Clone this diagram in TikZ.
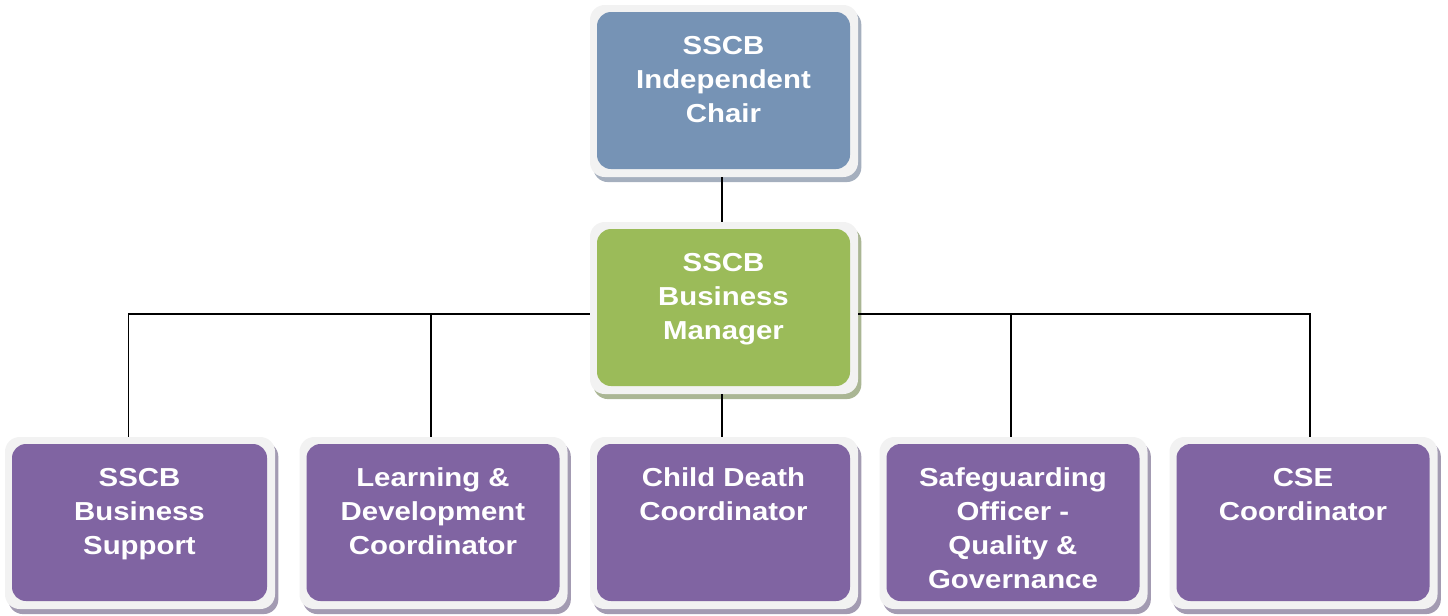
\documentclass[tikz,border=0pt]{standalone}
\usepackage{fontspec}
\setmainfont{Liberation Sans}[FakeStretch=1.13]
\usetikzlibrary{shadows}
\definecolor{chaircol}{RGB}{118,147,181}
\definecolor{mgrcol}{RGB}{155,187,89}
\definecolor{rolecol}{RGB}{128,100,162}
\definecolor{framecol}{RGB}{242,242,242}
\definecolor{chairsh}{RGB}{165,175,190}
\definecolor{mgrsh}{RGB}{170,182,148}
\definecolor{rolesh}{RGB}{163,155,178}
\tikzset{
  orgbox/.style 2 args={rectangle, rounded corners=11pt, minimum width=201pt, minimum height=129pt,
    inner sep=0pt, fill=framecol,
    general shadow={fill=#2, shadow xshift=2.5pt, shadow yshift=-3.8pt},
    path picture={\fill[#1, rounded corners=10.5pt]
      ([shift={(5.25pt,-5.25pt)}]path picture bounding box.north west) rectangle
      ([shift={(-6pt,6pt)}]path picture bounding box.south east);}},
  lbl/.style={text=white, font=\bfseries\fontsize{19.5pt}{25.5pt}\selectfont, align=center, inner sep=0pt, anchor=north},
  conn/.style={draw=black, line width=1.4pt}
}
\begin{document}
\begin{tikzpicture}[x=0.75pt,y=-0.75pt]
\useasboundingbox (0,0) rectangle (1448,615);
% boxes
\node[orgbox={chaircol}{chairsh}] (chair) at (724,91) {};
\node[orgbox={mgrcol}{mgrsh}] (mgr) at (724,308) {};
\node[orgbox={rolecol}{rolesh}, minimum width=202.5pt] (b1) at (140,523) {};
\node[orgbox={rolecol}{rolesh}] (b2) at (433.5,523) {};
\node[orgbox={rolecol}{rolesh}] (b3) at (724,523) {};
\node[orgbox={rolecol}{rolesh}] (b4) at (1013.5,523) {};
\node[orgbox={rolecol}{rolesh}] (b5) at (1303.5,523) {};
% labels
\node[lbl] (tchair) at ([shift={(-0.4pt,-23.5pt)}]chair.north) {SSCB\\Independent\\Chair};
\node[lbl] (tmgr) at ([shift={(-0.4pt,-23.2pt)}]mgr.north) {SSCB\\Business\\Manager};
\node[lbl] (tb1) at ([shift={(-0.4pt,-23.2pt)}]b1.north) {SSCB\\Business\\Support};
\node[lbl] (tb2) at ([shift={(-0.4pt,-23.2pt)}]b2.north) {Learning \&\\Development\\Coordinator};
\node[lbl] (tb3) at ([shift={(-0.4pt,-23.2pt)}]b3.north) {Child Death\\Coordinator};
\node[lbl] (tb4) at ([shift={(-0.4pt,-23.2pt)}]b4.north) {Safeguarding\\Officer -\\Quality \&\\Governance};
\node[lbl] (tb5) at ([shift={(-0.4pt,-23.2pt)}]b5.north) {CSE\\Coordinator};
% connectors
\coordinate (bus) at (722,314);
\draw[conn] ([xshift=-1.5pt]chair.south) -- ([xshift=-1.5pt]mgr.north);
\draw[conn] ([xshift=-1.5pt]mgr.south) -- ([xshift=-1.5pt]b3.north);
\draw[conn] (mgr.west |- bus) -| ([xshift=-8.6pt]b1.north);
\draw[conn] (mgr.west |- bus) -| ([xshift=-1.9pt]b2.north);
\draw[conn] (mgr.east |- bus) -| ([xshift=-1.9pt]b4.north);
\draw[conn] (mgr.east |- bus) -| ([xshift=4.9pt]b5.north);
\end{tikzpicture}
\end{document}
